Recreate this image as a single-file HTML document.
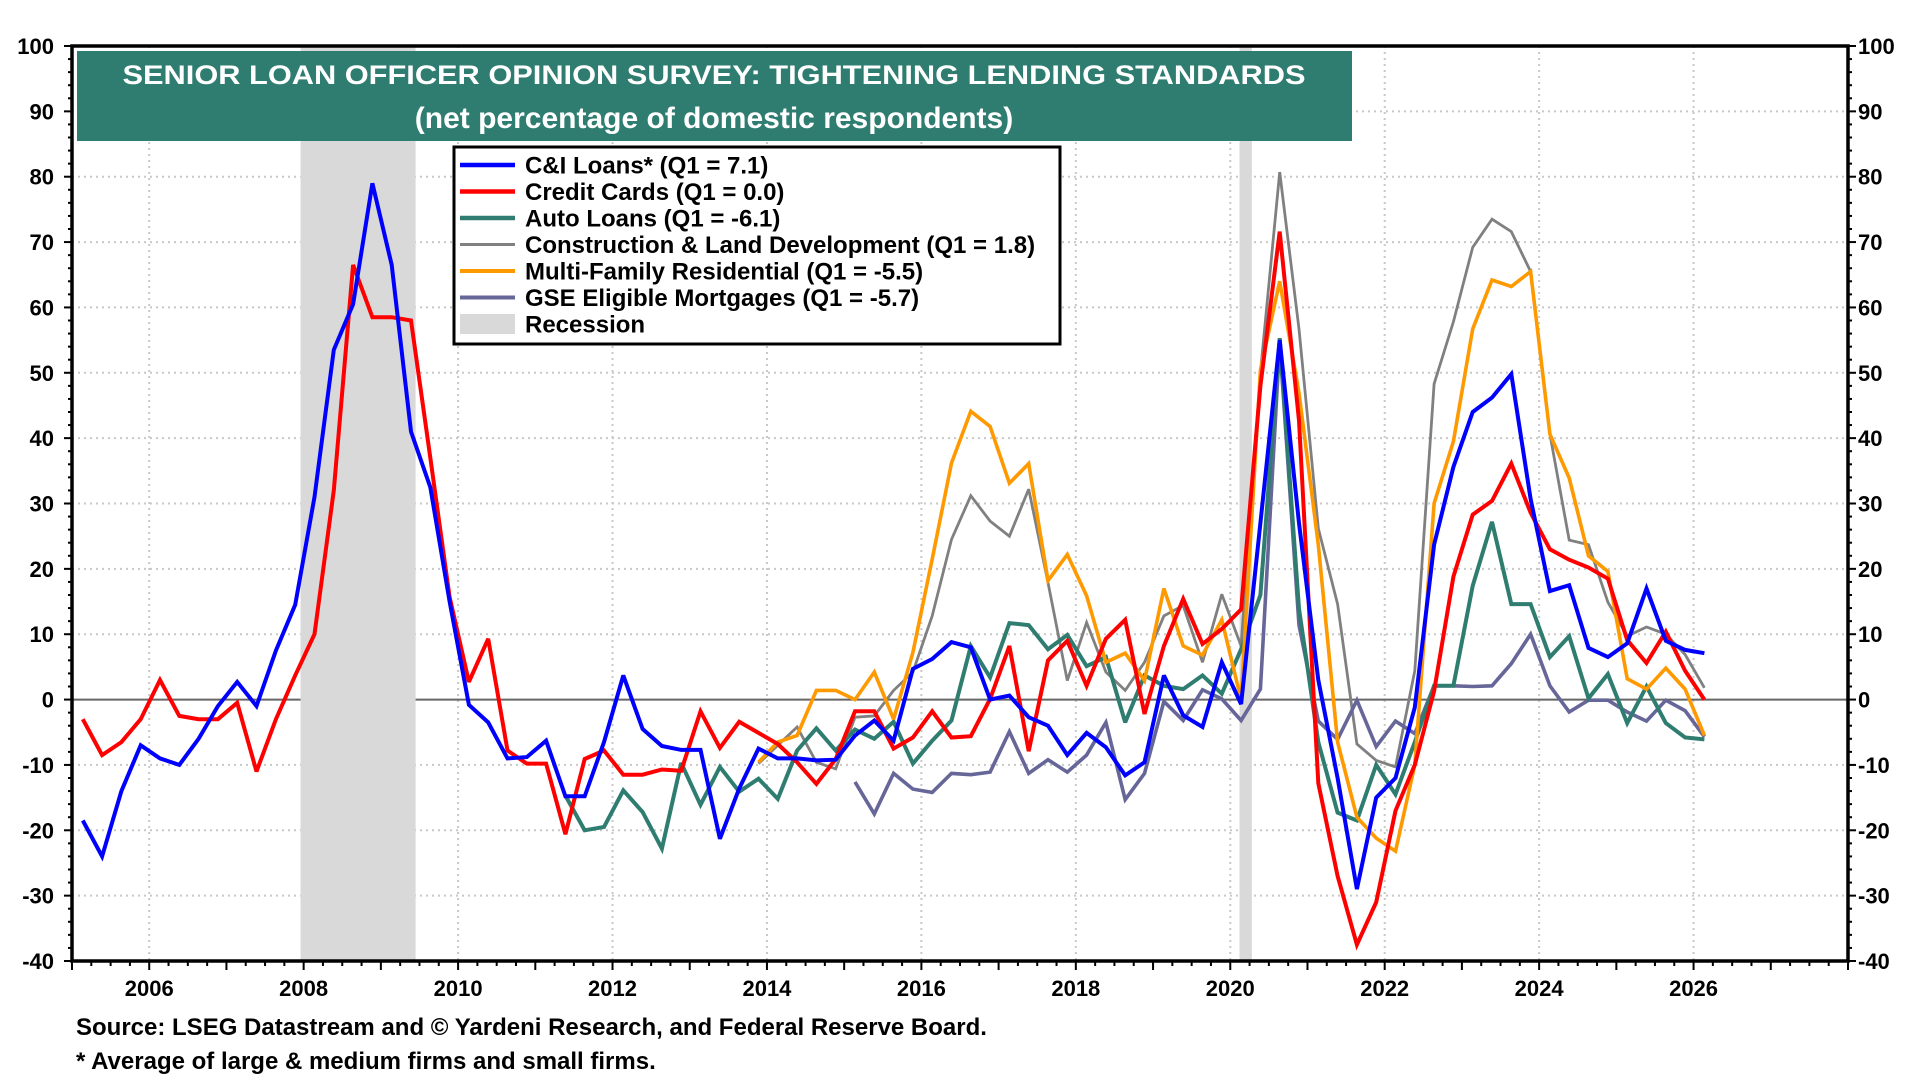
<!DOCTYPE html>
<html><head><meta charset="utf-8"><style>
html,body{margin:0;padding:0;background:#fff;}
svg{display:block;font-family:"Liberation Sans",Arial,sans-serif;}
</style></head><body>
<svg id="chart" width="1920" height="1080" viewBox="0 0 1920 1080" xmlns="http://www.w3.org/2000/svg">
<g id="grid"></g>
<g id="recessions"></g>
<g id="series"></g>
<g id="axes"></g>
<g>
<rect x="77" y="51" width="1275" height="90" fill="#2E7D70"/>
<text x="714" y="84" text-anchor="middle" fill="#fff" font-size="27" font-weight="bold" textLength="1183" lengthAdjust="spacingAndGlyphs">SENIOR LOAN OFFICER OPINION SURVEY: TIGHTENING LENDING STANDARDS</text>
<text x="714" y="128" text-anchor="middle" fill="#fff" font-size="30" font-weight="bold">(net percentage of domestic respondents)</text>
</g>
<g id="legend">
<rect x="454" y="147" width="606" height="197" fill="#fff" stroke="#000" stroke-width="3"/>
</g>
<text x="76" y="1035" font-size="24" font-weight="bold">Source: LSEG Datastream and © Yardeni Research, and Federal Reserve Board.</text>
<text x="76" y="1069" font-size="24" font-weight="bold">* Average of large &amp; medium firms and small firms.</text>
</svg>
<script>
const xTickYears = [2006,2008,2010,2012,2014,2016,2018,2020,2022,2024,2026];
const yTickValues = [-40,-30,-20,-10,0,10,20,30,40,50,60,70,80,90,100];
const recessionStarts = [2007.96, 2020.12];
const recessionEnds = [2009.45, 2020.28];
const startYear = 2005.14;
const ciLoans = [-18.5,-24,-14,-7, -9,-10,-6,-1, 2.7,-1,7.5,14.5, 31,53.5,60.5,79, 66.5,41,32.5,15, -0.8,-3.5,-9,-8.8, -6.3,-14.8,-14.8,-6.5, 3.7,-4.5,-7.1,-7.7, -7.7,-21.3,-13.6,-7.5, -9,-9,-9.3,-9.2, -5.5,-3.2,-6.3,4.7, 6.2,8.8,8,0, 0.6,-2.7,-4,-8.5, -5.1,-7.3,-11.6,-9.6, 3.7,-2.4,-4.2,5.7, -0.7,27,55,27, 3,-12,-29,-15, -12,-1.2,23.7,35.6, 44,46.2,49.8,30.7, 16.6,17.5,7.9,6.5, 8.6,17,9,7.6, 7.1];
const creditCards = [-3,-8.5,-6.5,-3, 3,-2.5,-3,-3, -0.5,-11,-3,3.7, 10,32,66.5,58.5, 58.5,58,37,15.7, 2.7,9.3,-7.8,-9.8, -9.8,-20.6,-9.1,-7.8, -11.5,-11.5,-10.7,-10.9, -1.8,-7.4,-3.4,-5.1, -6.8,-9.6,-12.9,-9.1, -1.8,-1.8,-7.5,-5.8, -1.8,-5.8,-5.6,0.1, 8.2,-7.9,6,9, 2.1,9.3,12.2,-2.2, 8.2,15.4,8.5,10.8, 13.8,48,71.6,42.7, -12.8,-27,-37.5,-31, -17,-10,1.3,18.8, 28.3,30.4,36.1,28.6, 23,21.4,20.2,18.5, 9.1,5.6,10.4,4.4, 0];
const autoStart = 25;
const autoLoans = [-14.7,-20,-19.5, -13.9,-17.2,-22.8,-9.7, -16.1,-10.3,-14.1,-12.1, -15.2,-7.8,-4.4,-7.8, -4.6,-6,-3.4,-9.8, -6.3,-3.2,8.2,3.4, 11.7,11.4,7.7,9.9, 5.1,6.5,-3.5,3.7, 2.1,1.6,3.7,0.9, 7.7,16,55.3,13.9, -6.5,-17.3,-18.5,-10, -14.5,-6.5,2.1,2.1, 17.4,27.2,14.6,14.6, 6.5,9.7,0.2,3.9, -3.6,2,-3.6,-5.8, -6.1];
const constructionStart = 35;
const construction = [-9.8, -7,-4.2,-9.6,-10.6, -2.7,-2.5,1.4,4.2, 12.8,24.5,31.2,27.3, 25,32.2,17.9,2.9, 11.8,4.2,1.4,5.7, 12.8,14.4,5.7,16.1, 8.2,50,80.7,56.7, 26.2,14.6,-6.8,-9.3, -10.3,4.4,48.3,57.8, 69.2,73.5,71.6,65.5, 40.6,24.4,23.7,14.9, 9.7,11.1,10,6.9, 1.8];
const multiFamilyStart = 35;
const multiFamily = [-9.6, -6.5,-5.5,1.4,1.4, 0,4.2,-3,7.2, 21.5,36.2,44.1,41.8, 33.1,36.1,18.2,22.2, 15.9,5.7,7.1,2.9, 17,8.2,6.8,12.2, 0,50.4,64,46.9, 23.7,-6.5,-18,-21.2, -23.2,-10,30,39.5, 56.7,64.2,63.2,65.5, 40.6,33.9,22,19.6, 3.2,1.6,4.8,1.6, -5.5];
const gseStart = 40;
const gseMortgages = [-12.6,-17.5,-11.3,-13.7, -14.2,-11.3,-11.5,-11.1, -4.9,-11.3,-9.2,-11.1, -8.5,-3.5,-15.3,-11.3, -0.3,-3.2,1.5,0.1, -3.2,1.6,54.6,11.4, -3.3,-6.1,-0.1,-7.2, -3.3,-5.2,2.1,2.1, 2,2.1,5.5,10, 2.1,-1.9,-0.1,-0.1, -1.9,-3.3,-0.1,-1.7, -5.7];
const legendLabels = ["C&I Loans* (Q1 = 7.1)","Credit Cards (Q1 = 0.0)","Auto Loans (Q1 = -6.1)","Construction & Land Development (Q1 = 1.8)","Multi-Family Residential (Q1 = -5.5)","GSE Eligible Mortgages (Q1 = -5.7)","Recession"];

const NS="http://www.w3.org/2000/svg";
const L=72,R=1848,T=46,B=961,X0=2005,X1=2028,Y0=-40,Y1=100;
function xs(t){return L+(t-X0)/(X1-X0)*(R-L);}
function ys(v){return B-(v-Y0)/(Y1-Y0)*(B-T);}
function mk(tag,attrs,parent){const e=document.createElementNS(NS,tag);for(const k in attrs)e.setAttribute(k,attrs[k]);parent.appendChild(e);return e;}
const grid=document.getElementById('grid'),rec=document.getElementById('recessions'),ser=document.getElementById('series'),axes=document.getElementById('axes'),leg=document.getElementById('legend');

yTickValues.forEach(v=>{
  if(v>Y0&&v<Y1&&v!==0){const g=mk('line',{x1:L,x2:R,y1:ys(v),y2:ys(v),stroke:'#c8c8c8','stroke-width':2,'stroke-dasharray':'2,4'},grid);
  
  }
});
xTickYears.forEach(yr=>{
  const g=mk('line',{x1:xs(yr),x2:xs(yr),y1:T,y2:B,stroke:'#c8c8c8','stroke-width':2,'stroke-dasharray':'2,4'},grid);
  
  
});
recessionStarts.forEach((s,i)=>{
  const r=mk('rect',{x:xs(s),y:T,width:xs(recessionEnds[i])-xs(s),height:B-T,fill:'#d9d9d9'},rec);
  
  
});
const z=mk('line',{x1:L,x2:R,y1:ys(0),y2:ys(0),stroke:'#666','stroke-width':2},grid);



function drawSeries(vals,start,color,w,name){
  const pts=vals.map((v,i)=>xs(startYear+(start+i)*0.25).toFixed(1)+','+ys(v).toFixed(1)).join(' ');
  const p=mk('polyline',{points:pts,fill:'none',stroke:color,'stroke-width':w,'stroke-linejoin':'miter','stroke-miterlimit':3},ser);
  
  
}
drawSeries(construction,constructionStart,'#808080',2.8,'construction-line');
drawSeries(gseMortgages,gseStart,'#666699',3.6,'gse-mortgages-line');
drawSeries(autoLoans,autoStart,'#2E7D70',4,'auto-loans-line');
drawSeries(multiFamily,multiFamilyStart,'#FF9900',3.6,'multi-family-line');
drawSeries(creditCards,0,'#FF0000',4,'credit-cards-line');
drawSeries(ciLoans,0,'#0000FF',4,'ci-loans-line');

const f=mk('rect',{x:L,y:T,width:R-L,height:B-T,fill:'none',stroke:'#000','stroke-width':3.5},axes);


for(let v=Y0;v<=Y1;v+=2){
  const major=(v%10===0),len=major?8:4;
  mk('line',{x1:L-len,x2:L,y1:ys(v),y2:ys(v),stroke:'#000','stroke-width':2},axes);
  mk('line',{x1:R,x2:R+len,y1:ys(v),y2:ys(v),stroke:'#000','stroke-width':2},axes);
}
yTickValues.forEach(v=>{
  const a=mk('text',{x:54,y:ys(v)+8,'text-anchor':'end','font-size':22,'font-weight':'bold'},axes);a.textContent=v;
  
  
  const b=mk('text',{x:1858,y:ys(v)+8,'text-anchor':'start','font-size':22,'font-weight':'bold'},axes);b.textContent=v;
  
  
});
for(let t=X0;t<=X1;t+=0.25){
  const major=Math.abs(t-Math.round(t))<1e-6,len=major?9:5;
  mk('line',{x1:xs(t),x2:xs(t),y1:B,y2:B+len,stroke:'#000','stroke-width':2},axes);
}
xTickYears.forEach(yr=>{
  const a=mk('text',{x:xs(yr),y:996,'text-anchor':'middle','font-size':22,'font-weight':'bold'},axes);a.textContent=yr;
  
  
});
const legColors=['#0000FF','#FF0000','#2E7D70','#808080','#FF9900','#666699'];
const legWidths=[4.5,4.5,4.5,3,4,4];
legendLabels.forEach((lab,i)=>{
  const y=165+i*26.5;
  const g=mk('g',{},leg);
  
  
  if(i<6) mk('line',{x1:460,x2:515,y1:y,y2:y,stroke:legColors[i],'stroke-width':legWidths[i]},g);
  else mk('rect',{x:460,y:y-10,width:55,height:20,fill:'#d9d9d9'},g);
  const t=mk('text',{x:525,y:y+8.5,'font-size':24,'font-weight':'bold'},g);t.textContent=lab;
});
</script>
</body></html>
